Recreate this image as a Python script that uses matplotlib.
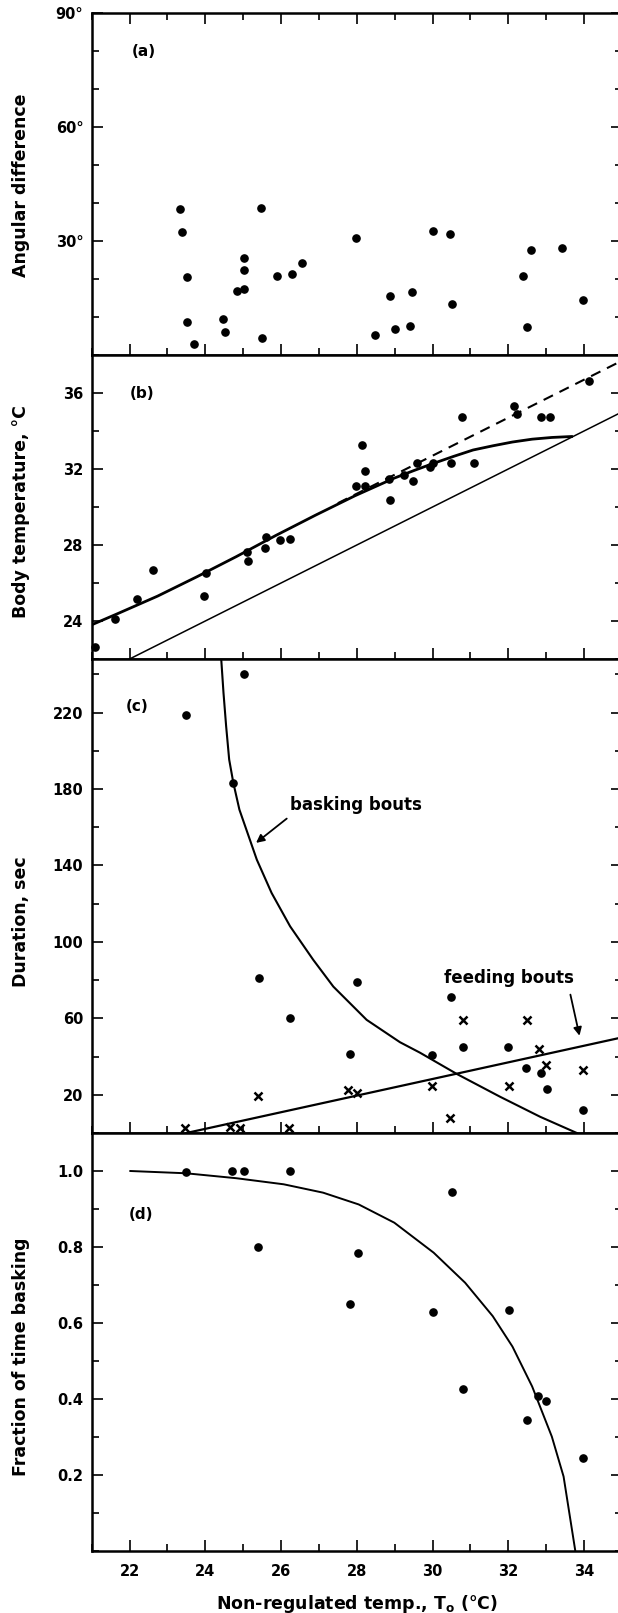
import numpy as np
import matplotlib
matplotlib.use("Agg")
import matplotlib.pyplot as plt
from matplotlib.ticker import MultipleLocator, FixedLocator, FormatStrFormatter

plt.rcParams['font.family'] = ['DejaVu Sans']
plt.rcParams['font.weight'] = 'bold'
plt.rcParams['axes.labelweight'] = 'bold'
plt.rcParams['mathtext.default'] = 'bf'

FONTSIZE = 10.5
LABELSIZE = 12.5

# (a) angular difference vs non-regulated temp
ang_to = [23.32, 23.38, 23.52, 23.52, 23.71, 24.47, 24.53, 24.83, 25.01, 25.01,
          25.01, 25.47, 25.50, 25.88, 26.30, 26.55, 27.98, 28.49, 28.88, 29.01,
          29.40, 29.47, 30.00, 30.47, 30.52, 32.40, 32.49, 32.61, 33.41, 33.98]
ang_diff = [38.3, 32.4, 20.6, 8.7, 2.8, 9.5, 6.1, 16.8, 17.5, 22.5,
            25.6, 38.6, 4.6, 20.9, 21.2, 24.2, 30.8, 5.3, 15.4, 6.8,
            7.7, 16.7, 32.7, 31.8, 13.5, 20.7, 7.5, 27.7, 28.1, 14.4]

# (b) body temperature
tb_to = [21.09, 21.62, 22.20, 22.62, 23.97, 24.01, 25.10, 25.12, 25.57, 25.61,
         25.97, 26.23, 27.98, 28.13, 28.21, 28.21, 28.84, 28.88, 29.25, 29.48,
         29.59, 29.92, 30.02, 30.48, 30.78, 31.09, 32.16, 32.22, 32.86, 33.11, 34.13]
tb_body = [22.61, 24.08, 25.14, 26.67, 25.30, 26.51, 27.62, 27.14, 27.83, 28.41,
           28.25, 28.30, 31.11, 33.24, 31.87, 31.11, 31.47, 30.36, 31.69, 31.36,
           32.34, 32.13, 32.34, 32.34, 34.75, 32.34, 35.33, 34.91, 34.73, 34.73, 36.62]
tb_fit_to = [21.0, 21.70, 22.74, 23.78, 24.82, 25.86, 26.91, 27.95, 28.99, 29.51,
             30.03, 30.55, 31.07, 31.59, 32.11, 32.63, 33.15, 33.67]
tb_fit_body = [23.8, 24.4, 25.31, 26.33, 27.39, 28.50, 29.57, 30.59, 31.52, 31.92,
               32.3, 32.66, 33.0, 33.22, 33.42, 33.57, 33.66, 33.71]
tb_dash_to = [27.5, 35.0]
tb_dash_body = [30.2, 37.7]
tb_equal_to = [22.0, 35.0]
tb_equal_body = [22.0, 35.0]

# (c) bout durations
bask_to = [23.49, 24.72, 25.01, 25.42, 26.24, 27.81, 28.01, 29.98, 30.50, 30.80,
           31.99, 32.48, 32.86, 33.02, 33.98]
bask_dur = [218.6, 183.3, 240.1, 81.2, 60.3, 41.3, 78.8, 40.6, 71.0, 45.1,
            45.1, 34.0, 31.5, 23.2, 12.2]
feed_to = [23.47, 24.66, 24.91, 26.20, 25.38, 27.78, 28.01, 29.99, 30.46, 30.80,
           32.49, 32.03, 32.80, 33.00, 33.98]
feed_dur = [2.8, 3.0, 2.8, 2.5, 19.6, 22.6, 21.0, 24.4, 7.8, 59.3,
            59.3, 24.4, 44.0, 35.8, 33.1]
bask_curve_to = [24.42, 24.48, 24.55, 24.63, 24.74, 24.90, 25.36, 25.75, 26.24,
                 26.85, 27.38, 28.26, 29.14, 29.67, 30.64, 31.78, 32.84, 33.81]
bask_curve_dur = [248.0, 230.3, 212.8, 195.4, 183.2, 169.2, 143.0, 125.6, 108.1,
                  90.6, 76.6, 59.2, 47.5, 42.0, 30.9, 19.0, 8.5, 0.0]
feed_line_to = [23.5, 35.0]
feed_line_dur = [0.0, 50.0]

# (d) fraction of time basking
frac_to = [23.49, 24.71, 25.01, 26.23, 25.38, 28.02, 27.81, 30.00, 30.52, 30.80,
           32.01, 32.49, 32.78, 33.00, 33.98]
frac_bask = [0.998, 1.0, 1.0, 1.0, 0.799, 0.785, 0.650, 0.630, 0.946, 0.426,
             0.635, 0.346, 0.408, 0.395, 0.244]
frac_curve_to = [22.02, 23.49, 24.82, 26.07, 27.11, 28.05, 28.99, 30.03, 30.86,
                 31.59, 32.11, 32.63, 33.15, 33.46, 33.77]
frac_curve = [1.0, 0.994, 0.981, 0.965, 0.943, 0.912, 0.864, 0.785, 0.706,
              0.618, 0.538, 0.433, 0.301, 0.196, 0.0]

W, H = 618, 1613
fig = plt.figure(figsize=(W / 100, H / 100), dpi=100)

left = 91.7 / W
width = (621.9 - 91.7) / W
# top / bottom pixel rows of each panel
rows = [(13, 355), (355, 659), (659, 1133), (1133, 1551)]
axes = []
for top, bot in rows:
    ax = fig.add_axes([left, 1 - bot / H, width, (bot - top) / H])
    axes.append(ax)
axA, axB, axC, axD = axes

dot = dict(marker='o', linestyle='none', color='black', markersize=5.2, clip_on=False, zorder=4)

# (a)
axA.plot(ang_to, ang_diff, **dot)
axA.set_ylim(0, 90)
axA.yaxis.set_major_locator(FixedLocator([30, 60, 90]))
axA.yaxis.set_major_formatter(FormatStrFormatter('%d°'))
axA.yaxis.set_minor_locator(MultipleLocator(10))
axA.set_ylabel('Angular difference', fontsize=LABELSIZE, va='center')
axA.yaxis.set_label_coords(-0.133, 0.497)

# (b)
axB.plot(tb_equal_to, tb_equal_body, color='black', lw=1.1)
axB.plot(tb_dash_to, tb_dash_body, color='black', lw=1.5, linestyle=(0, (5, 3.5)))
axB.plot(tb_fit_to, tb_fit_body, color='black', lw=2.0)
axB.plot(tb_to, tb_body, **dot)
axB.set_ylim(22, 38)
axB.yaxis.set_major_locator(FixedLocator([24, 28, 32, 36]))
axB.yaxis.set_minor_locator(MultipleLocator(2))
axB.set_ylabel('Body temperature, °C', fontsize=LABELSIZE, va='center')
axB.yaxis.set_label_coords(-0.133, 0.484)

# (c)
axC.plot(bask_curve_to, bask_curve_dur, color='black', lw=1.5)
axC.plot(feed_line_to, feed_line_dur, color='black', lw=1.6)
axC.plot(bask_to, bask_dur, **dot)
axC.plot(feed_to, feed_dur, marker='x', linestyle='none', color='black',
         markersize=5.5, markeredgewidth=1.8, clip_on=False, zorder=4)
axC.set_ylim(0, 248)
axC.yaxis.set_major_locator(FixedLocator([20, 60, 100, 140, 180, 220]))
axC.yaxis.set_minor_locator(MultipleLocator(20))
axC.set_ylabel('Duration, sec', fontsize=LABELSIZE, va='center')
axC.yaxis.set_label_coords(-0.133, 0.445)
arrow = dict(arrowstyle='-|>', color='black', lw=1.3, mutation_scale=12,
             shrinkA=0, shrinkB=0)
axC.annotate('', xy=(25.34, 151.8), xytext=(26.15, 164.5), arrowprops=arrow)
axC.text(27.97, 171.8, 'basking bouts', fontsize=12, ha='center', va='center')
axC.annotate('', xy=(33.88, 50.9), xytext=(33.64, 72.4), arrowprops=arrow)
axC.text(32.03, 81.1, 'feeding bouts', fontsize=12, ha='center', va='center')

# (d)
axD.plot(frac_curve_to, frac_curve, color='black', lw=1.4)
axD.plot(frac_to, frac_bask, **dot)
axD.set_ylim(0, 1.1)
axD.yaxis.set_major_locator(FixedLocator([0.2, 0.4, 0.6, 0.8, 1.0]))
axD.yaxis.set_major_formatter(FormatStrFormatter('%.1f'))
axD.yaxis.set_minor_locator(MultipleLocator(0.1))
axD.set_ylabel('Fraction of time basking', fontsize=LABELSIZE, va='center')
axD.yaxis.set_label_coords(-0.133, 0.464)
axD.set_xlabel(r'Non-regulated temp., T$_{o}$ (°C)', fontsize=LABELSIZE)
axD.xaxis.set_label_coords(0.5, -0.101)

panel_tags = ['(a)', '(b)', '(c)', '(d)']
tag_pos = [(0.076, 0.886), (0.072, 0.875), (0.065, 0.899), (0.070, 0.806)]

for i, ax in enumerate(axes):
    ax.set_xlim(21, 35)
    ax.xaxis.set_major_locator(MultipleLocator(2))
    ax.xaxis.set_minor_locator(MultipleLocator(1))
    ax.tick_params(which='both', direction='in', right=True, top=(i == 0),
                   labelbottom=(i == 3), width=1.2, labelsize=FONTSIZE)
    ax.tick_params(which='major', length=8)
    ax.tick_params(which='minor', length=5)
    ax.tick_params(axis='x', pad=9)
    ax.tick_params(axis='y', pad=6)
    for s in ax.spines.values():
        s.set_linewidth(1.8)
    ax.text(tag_pos[i][0], tag_pos[i][1], panel_tags[i], transform=ax.transAxes,
            fontsize=11, ha='left', va='center')

fig.savefig('out.png', dpi=100, facecolor='white')
